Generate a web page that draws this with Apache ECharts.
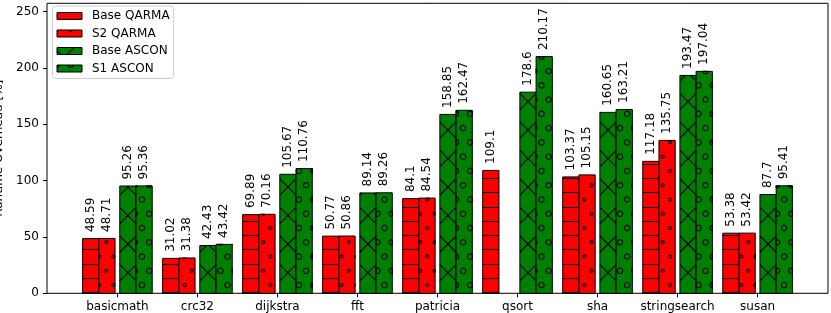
<!DOCTYPE html>
<html><head><meta charset="utf-8">
<script src="https://cdn.jsdelivr.net/npm/echarts@6/dist/echarts.min.js"></script>
<style>html,body{margin:0;padding:0;background:#fff}#c{width:831px;height:313px}</style>
</head><body><div id="c"></div>
<script>
const categories = ['basicmath','crc32','dijkstra','fft','patricia','qsort','sha','stringsearch','susan'];
const seriesNames = ['Base QARMA','S2 QARMA','Base ASCON','S1 ASCON'];
const baseQarma = [48.59, 31.02, 69.89, 50.77, 84.1, 109.1, 103.37, 117.18, 53.38];
const s2Qarma   = [48.71, 31.38, 70.16, 50.86, 84.54, null, 105.15, 135.75, 53.42];
const baseAscon = [95.26, 42.43, 105.67, 89.14, 158.85, 178.6, 160.65, 193.47, 87.7];
const s1Ascon   = [95.36, 43.42, 110.76, 89.26, 162.47, 210.17, 163.21, 197.04, 95.41];
const yTicks = [0, 50, 100, 150, 200, 250];
const xTicks = categories.map((_, i) => i);

const FONT = 'DejaVu Sans';
const RED = '#ff0000', GREEN = '#008000';
const P = 14.27, S = 2 * P;            // hatch periods (px)
const LY = 7.4;                        // horizontal hatch phase
const CY = 13.96, CX = 6.4;            // circle lattice phase
const XY = 15.8;                       // diagonal crossing row phase
const HW = 1.1;                        // hatch line width

// ---- legend icon patterns ----
const T = 86;
function tile(bg, draw) {
  const c = document.createElement('canvas'); c.width = T; c.height = T;
  const g = c.getContext('2d'); g.fillStyle = bg; g.fillRect(0, 0, T, T);
  g.strokeStyle = '#000'; g.lineWidth = HW; draw(g);
  return { image: c, repeat: 'repeat' };
}
function tLines(g) { for (let k = 0; k < 7; k++) { const y = LY + k * P; g.beginPath(); g.moveTo(0, y); g.lineTo(T, y); g.stroke(); } }
function tCircles(R) { return function (g) {
  for (let r = -1; r < 7; r++) { const y = CY + r * P; const xo = CX + ((r + 2) % 2 ? P / 2 : 0);
    for (let c = -1; c < 7; c++) { g.beginPath(); g.arc(xo + c * P, y, R, 0, 7); g.stroke(); } }
}; }
function tX(g) {
  for (let k = -8; k <= 8; k++) {
    const b = 3 + k * S; g.beginPath(); g.moveTo(-20, -20 + b); g.lineTo(T + 20, T + 20 + b); g.stroke();
    const b2 = 17 + k * S; g.beginPath(); g.moveTo(-20, 20 + b2); g.lineTo(T + 20, -T - 20 + b2); g.stroke();
  }
}
const legendFills = [tile(RED, tLines), tile(RED, tCircles(1.5)), tile(GREEN, tX), tile(GREEN, tCircles(2.7))];

// ---- explicit hatch geometry inside a bar rect ----
const hs = { stroke: '#000', lineWidth: HW, fill: null };
function hatch(kind, x0, y0, x1, y1) {
  const els = [];
  if (kind === 'h') {
    const k0 = Math.ceil((y0 - LY) / P), k1 = Math.floor((y1 - LY) / P);
    for (let k = k0; k <= k1; k++) {
      const y = Math.round(LY + k * P - 0.5) + 0.5;
      if (y <= y0 + 0.5 || y >= y1 - 0.5) continue;
      els.push({ type: 'line', shape: { x1: x0, y1: y, x2: x1, y2: y }, style: hs });
    }
  } else if (kind === 'o' || kind === 'O') {
    const R = kind === 'o' ? 1.5 : 2.7;
    const r0 = Math.floor((y0 - R - CY) / P), r1 = Math.ceil((y1 + R - CY) / P);
    for (let r = r0; r <= r1; r++) {
      const cy = CY + r * P;
      if (cy < y0 - R || cy > y1 + R) continue;
      const xo = CX + ((((r % 2) + 2) % 2) ? P / 2 : 0);
      const c0 = Math.floor((x0 - R - xo) / P), c1 = Math.ceil((x1 + R - xo) / P);
      for (let c = c0; c <= c1; c++) {
        const cx = xo + c * P;
        if (cx < x0 - R || cx > x1 + R) continue;
        const pts = [];
        for (let a = 0; a <= 24; a++) { const t = a / 24 * Math.PI * 2;
          pts.push([Math.min(x1, Math.max(x0, cx + R * Math.cos(t))), Math.min(y1, Math.max(y0, cy + R * Math.sin(t)))]); }
        els.push({ type: 'polyline', shape: { points: pts }, style: hs });
      }
    }
  } else if (kind === 'x') {
    const xc = (x0 + x1) / 2;                 // crossings on the bar centre
    const c1 = XY - xc, c2 = XY + xc;
    const k0 = Math.floor((y0 - x1 - c1) / S), k1 = Math.ceil((y1 - x0 - c1) / S);
    for (let k = k0; k <= k1; k++) { const b = c1 + k * S;
      const lo = Math.max(x0, y0 - b), hi = Math.min(x1, y1 - b);
      if (hi > lo) els.push({ type: 'line', shape: { x1: lo, y1: lo + b, x2: hi, y2: hi + b }, style: hs }); }
    const m0 = Math.floor((y0 + x0 - c2) / S), m1 = Math.ceil((y1 + x1 - c2) / S);
    for (let m = m0; m <= m1; m++) { const b = c2 + m * S;
      const lo = Math.max(x0, b - y1), hi = Math.min(x1, b - y0);
      if (hi > lo) els.push({ type: 'line', shape: { x1: lo, y1: b - lo, x2: hi, y2: b - hi }, style: hs }); }
  }
  return els;
}

const kinds = ['h', 'o', 'x', 'O'];
const colors = [RED, RED, GREEN, GREEN];
const offsets = [-0.3335, -0.131, 0.131, 0.3335];
const BW = 0.203;
const dataSets = [baseQarma, s2Qarma, baseAscon, s1Ascon];

function makeRender(k) {
  return function (params, api) {
    const i = api.value(0), v = api.value(1);
    const p0 = api.coord([i + offsets[k] - BW / 2, v]);
    const p1 = api.coord([i + offsets[k] + BW / 2, 0]);
    const x0 = p0[0], y0 = p0[1], x1 = p1[0], y1 = p1[1];
    return { type: 'group', children: [
      { type: 'rect', shape: { x: x0, y: y0, width: x1 - x0, height: y1 - y0 }, style: { fill: colors[k], stroke: null } },
      ...hatch(kinds[k], x0, y0, x1, y1),
      { type: 'rect', shape: { x: x0, y: y0, width: x1 - x0, height: y1 - y0 }, style: { fill: null, stroke: '#000', lineWidth: 1 } },
      { type: 'text', x: (x0 + x1) / 2, y: y0 - 6.5, rotation: Math.PI / 2,
        style: { text: String(v), fill: '#000', fontSize: 12, fontFamily: FONT, align: 'left', verticalAlign: 'middle' } }
    ] };
  };
}

const chart = echarts.init(document.getElementById('c'), null, { renderer: 'canvas' });
chart.setOption({
  animation: false,
  textStyle: { fontFamily: FONT },
  grid: { left: 47, top: 3.3, width: 781, height: 290, show: true, borderColor: '#000', borderWidth: 1, outerBoundsMode: 'none', containLabel: false },
  legend: {
    orient: 'vertical', left: 52.5, top: 6, padding: [3, 4, 3, 4],
    itemWidth: 25, itemHeight: 7, itemGap: 3.5,
    borderColor: '#cccccc', borderWidth: 1, borderRadius: 3, backgroundColor: 'rgba(255,255,255,0.8)',
    textStyle: { fontSize: 12, color: '#000', fontFamily: FONT, lineHeight: 14, padding: [0, 0, 0, 5] },
    data: seriesNames.map((n, k) => ({ name: n, icon: 'rect', itemStyle: { color: legendFills[k], borderColor: '#000', borderWidth: 1 } }))
  },
  xAxis: { type: 'value', min: -0.88, max: 8.88, splitLine: { show: false }, axisLine: { show: false, onZero: false },
    axisTick: { show: true, customValues: xTicks, length: 4, lineStyle: { color: '#000', width: 1 } },
    axisLabel: { customValues: xTicks, formatter: v => categories[Math.round(v)], color: '#000', fontSize: 12, margin: 8, fontFamily: FONT } },
  yAxis: { type: 'value', min: 0, max: 257.5, splitLine: { show: false }, axisLine: { show: false, onZero: false },
    axisTick: { show: true, customValues: yTicks, length: 4, lineStyle: { color: '#000', width: 1 } },
    axisLabel: { customValues: yTicks, color: '#000', fontSize: 12, margin: 8, fontFamily: FONT },
    name: 'Runtime Overhead [%]', nameLocation: 'middle', nameGap: 29,
    nameTextStyle: { color: '#000', fontSize: 12, fontFamily: FONT } },
  series: dataSets.map((arr, k) => ({ type: 'custom', name: seriesNames[k], itemStyle: { color: colors[k] },
    renderItem: makeRender(k), data: arr.map((v, i) => v == null ? null : [i, v]).filter(d => d) }))
});
</script>
</body></html>
